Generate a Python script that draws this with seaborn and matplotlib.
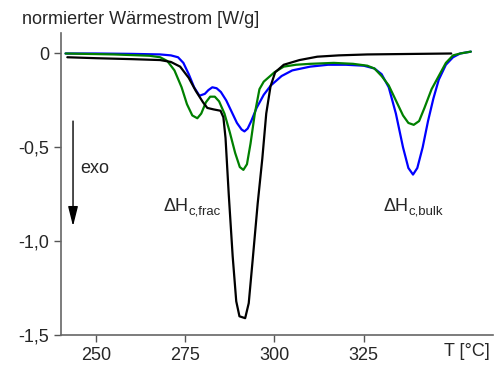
import matplotlib
matplotlib.use("Agg")
import matplotlib.pyplot as plt
import seaborn as sns

# DSC-Kurven, Werte
t_blue = [241.5, 250, 260, 268, 271, 273, 274.5, 276, 277.5, 279, 280.5, 281.5, 282.6, 283.8, 285, 286.5,
          288, 289.5, 290.8, 291.6, 292.5, 293.5, 295, 297, 299, 302, 305, 310, 315, 320, 325, 328,
          330, 332, 334, 336, 337.5, 338.8, 340, 341.5, 343, 344.5, 346, 348, 350, 352, 355]
w_blue = [0.0, 0.0, -0.002, -0.005, -0.01, -0.02, -0.05, -0.11, -0.18, -0.225, -0.215, -0.195, -0.18,
          -0.185, -0.205, -0.25, -0.31, -0.37, -0.405, -0.415, -0.40, -0.36, -0.29, -0.22, -0.17, -0.12,
          -0.09, -0.07, -0.06, -0.06, -0.065, -0.08, -0.11, -0.18, -0.32, -0.50, -0.61, -0.645, -0.61,
          -0.50, -0.36, -0.24, -0.14, -0.06, -0.02, 0.0, 0.01]

t_green = [241.5, 255, 265, 268, 270, 272, 274, 275.5, 277, 278.4, 279.5, 280.8, 282, 283.3, 284.5,
           286, 287.5, 289, 290.3, 291.3, 292.3, 293.3, 294.5, 295.8, 297, 300, 302.6, 306, 310, 316.6,
           322, 326, 328, 330, 332, 334, 336, 337.5, 339, 340.5, 342, 344, 346, 348, 350, 352, 355]
w_green = [0.0, -0.005, -0.012, -0.02, -0.04, -0.09, -0.18, -0.27, -0.33, -0.345, -0.32, -0.26, -0.23,
           -0.23, -0.255, -0.32, -0.42, -0.53, -0.605, -0.62, -0.59, -0.48, -0.32, -0.19, -0.15, -0.10,
           -0.07, -0.06, -0.055, -0.05, -0.055, -0.065, -0.08, -0.12, -0.17, -0.25, -0.33, -0.37, -0.38,
           -0.36, -0.29, -0.19, -0.12, -0.05, -0.01, 0.0, 0.01]

t_black = [242, 250, 260, 268, 271, 273.6, 276, 278, 280, 281.2, 283, 284.9, 285.7, 286.3, 287.2, 288.3,
           289.3, 290.2, 291.8, 292.8, 293.9, 295.3, 296.6, 297.7, 298.9, 300.2, 302.6, 307, 312, 318,
           326, 340, 349.5]
w_black = [-0.02, -0.025, -0.03, -0.035, -0.045, -0.07, -0.13, -0.20, -0.26, -0.29, -0.298, -0.305, -0.34,
           -0.45, -0.75, -1.08, -1.32, -1.40, -1.41, -1.33, -1.10, -0.80, -0.56, -0.32, -0.175, -0.10,
           -0.06, -0.035, -0.017, -0.01, -0.005, -0.002, 0.0]

x_ticks = [250, 275, 300, 325]
y_ticks = [0, -0.5, -1.0, -1.5]
y_tick_labels = ["0", "-0,5", "-1,0", "-1,5"]

sns.set_style("ticks")
plt.rcParams["font.family"] = ["Liberation Sans", "DejaVu Sans"]

fig = plt.figure(figsize=(4.95, 3.65), dpi=100)
ax = fig.add_axes([0.123, 0.082, 0.873, 0.828])

lw = 1.6
sns.lineplot(x=t_blue, y=w_blue, color="#0000ff", lw=lw, ax=ax, sort=False)
sns.lineplot(x=t_green, y=w_green, color="#008000", lw=lw, ax=ax, sort=False)
sns.lineplot(x=t_black, y=w_black, color="black", lw=lw, ax=ax, sort=False)

ax.set_xlim(240.2, 361.2)
ax.set_ylim(-1.5, 0.11)
ax.set_xticks(x_ticks)
ax.set_yticks(y_ticks)
ax.set_yticklabels(y_tick_labels)
ax.tick_params(labelsize=13, length=5, width=1, color="#555555")
sns.despine(ax=ax)
for s in ["left", "bottom"]:
    ax.spines[s].set_color("#666666")
    ax.spines[s].set_linewidth(1.2)

fig.text(22 / 495, 1 - 20 / 365, "normierter Wärmestrom [W/g]", fontsize=13, va="center", ha="left")
fig.text(490 / 495, 1 - 352 / 365, "T [°C]", fontsize=13, va="center", ha="right")

# exo Pfeil
ax.annotate("", xy=(243.6, -0.92), xytext=(243.6, -0.36),
            arrowprops=dict(arrowstyle="-|>,head_length=1.0,head_width=0.25", color="black",
                            lw=1.0, mutation_scale=12, shrinkA=0, shrinkB=0))
ax.text(245.5, -0.61, "exo", fontsize=13, va="center", ha="left")

# Peak-Beschriftungen mit Index
for tx, sub in [(268.9, "c,frac"), (330.6, "c,bulk")]:
    t = ax.text(tx, -0.84, "ΔH", fontsize=13, va="baseline", ha="left")
    ax.annotate(sub, xy=(1, 0), xycoords=t, xytext=(0, -1.5), textcoords="offset points",
                fontsize=9.5, va="bottom", ha="left")

fig.savefig("out.png", dpi=100)
